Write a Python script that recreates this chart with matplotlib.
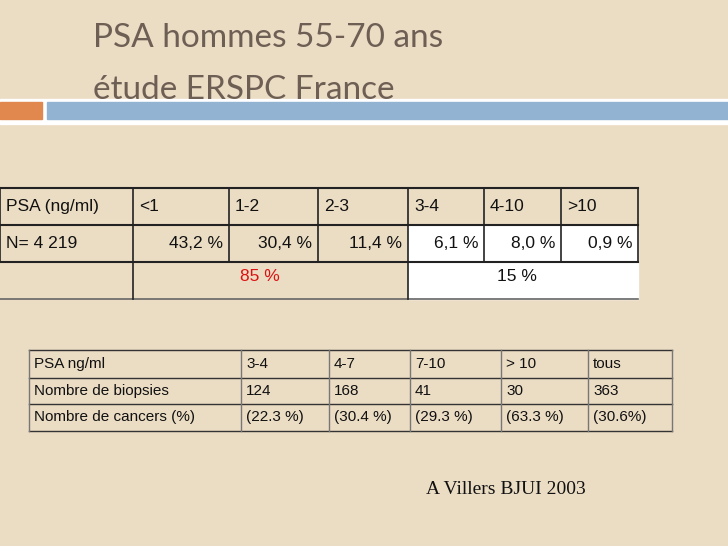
import matplotlib.pyplot as plt
from matplotlib.patches import Rectangle

# table 1
t1_head = ['PSA (ng/ml)', '<1', '1-2', '2-3', '3-4', '4-10', '>10']
t1_vals = ['N= 4 219', '43,2 %', '30,4 %', '11,4 %', '6,1 %', '8,0 %', '0,9 %']
t1_groups = ['85 %', '15 %']
t1_cols = [0, 133, 229, 318, 408, 484, 561, 638]
t1_rows = [188, 225, 262, 299]

# table 2
t2_rows_txt = [
    ['PSA ng/ml', '3-4', '4-7', '7-10', '> 10', 'tous'],
    ['Nombre de biopsies', '124', '168', '41', '30', '363'],
    ['Nombre de cancers (%)', '(22.3 %)', '(30.4 %)', '(29.3 %)', '(63.3 %)', '(30.6%)'],
]
t2_cols = [29, 241, 329, 410, 501, 588, 672]
t2_rows = [350, 378, 404, 431]

bg = '#ebdcc4'
fig = plt.figure(figsize=(7.28, 5.46), dpi=100, facecolor=bg)
ax = fig.add_axes([0, 0, 1, 1])
ax.set_xlim(0, 728)
ax.set_ylim(546, 0)
ax.axis('off')

# header bars
ax.add_patch(Rectangle((0, 99), 728, 25, color='white', zorder=1))
ax.add_patch(Rectangle((0, 102), 42, 17, color='#e0884e', zorder=2))
ax.add_patch(Rectangle((47, 102), 681, 17, color='#93b3d3', zorder=2))

# title
ax.text(93, 38, 'PSA hommes 55-70 ans', fontsize=24, color='#6e5f55',
        family='Lato', va='center')
ax.text(93, 90, 'étude ERSPC France', fontsize=24, color='#6e5f55',
        family='Lato', va='center', zorder=3)

fs1 = 12.5
ax.add_patch(Rectangle((t1_cols[4], t1_rows[1]), t1_cols[-1] - t1_cols[4],
                       t1_rows[3] - t1_rows[1], color='white', zorder=1))
for y in t1_rows[:3]:
    ax.plot([0, t1_cols[-1]], [y, y], color='#222222', lw=1.5, zorder=4)
ax.plot([0, t1_cols[-1]], [t1_rows[3], t1_rows[3]], color='#666666', lw=1.2, zorder=4)
for x in t1_cols:
    ax.plot([x, x], [t1_rows[0], t1_rows[2]], color='#222222', lw=1.2, zorder=4)
for x in [t1_cols[1], t1_cols[4]]:
    ax.plot([x, x], [t1_rows[2], t1_rows[3]], color='#222222', lw=1.2, zorder=4)

for i, s in enumerate(t1_head):
    ax.text(t1_cols[i] + 6, (t1_rows[0] + t1_rows[1]) / 2, s, fontsize=fs1,
            family='Liberation Sans', va='center', color='#111111', zorder=5)
ax.text(6, (t1_rows[1] + t1_rows[2]) / 2, t1_vals[0], fontsize=fs1,
        family='Liberation Sans', va='center', color='#111111', zorder=5)
for i, s in enumerate(t1_vals[1:], start=1):
    ax.text(t1_cols[i + 1] - 6, (t1_rows[1] + t1_rows[2]) / 2, s, fontsize=fs1,
            family='Liberation Sans', va='center', ha='right', color='#111111', zorder=5)
ax.text(260, (t1_rows[2] + t1_rows[3]) / 2 - 4, t1_groups[0], fontsize=fs1,
        family='Liberation Sans', va='center', ha='center', color='#dd1111', zorder=5)
ax.text(517, (t1_rows[2] + t1_rows[3]) / 2 - 4, t1_groups[1], fontsize=fs1,
        family='Liberation Sans', va='center', ha='center', color='#111111', zorder=5)

# table 2
fs2 = 11
for y in t2_rows:
    ax.plot([t2_cols[0], t2_cols[-1]], [y, y], color='#333333', lw=1.0, zorder=4)
for x in t2_cols:
    ax.plot([x, x], [t2_rows[0], t2_rows[-1]], color='#777777', lw=1.0, zorder=4)
for r, row in enumerate(t2_rows_txt):
    yc = (t2_rows[r] + t2_rows[r + 1]) / 2
    for c, s in enumerate(row):
        ax.text(t2_cols[c] + 5, yc, s, fontsize=fs2, family='Liberation Sans',
                va='center', color='#111111', zorder=5)

ax.text(426, 489, 'A Villers BJUI 2003', fontsize=14, family='Liberation Serif',
        va='center', color='#111111')

fig.savefig('out.png', dpi=100, facecolor=bg)
